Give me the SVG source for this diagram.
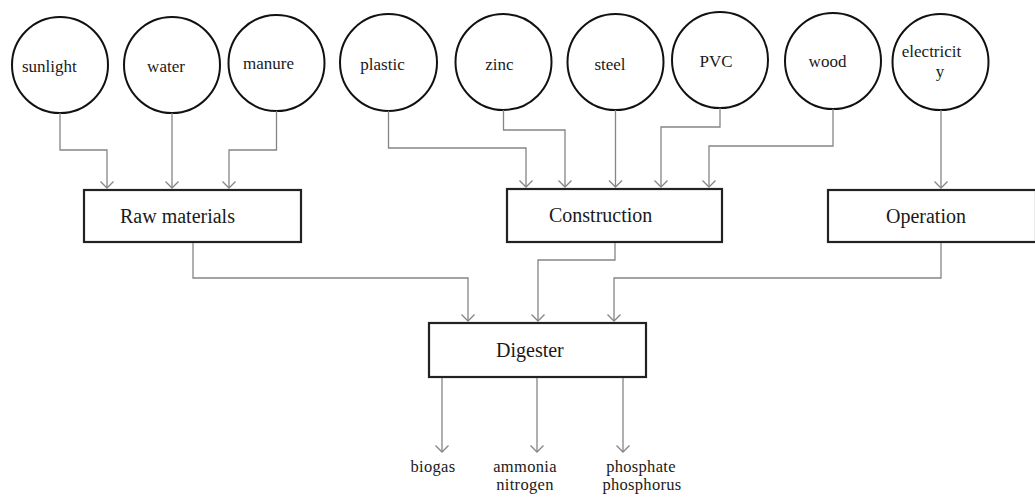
<svg xmlns="http://www.w3.org/2000/svg" width="1035" height="497" viewBox="0 0 1035 497">
  <style>
    .node circle { fill: #fff; stroke: #111; stroke-width: 2; }
    .node rect { fill: #fff; stroke: #222; stroke-width: 2.2; }
    text { font-family: "Liberation Serif", "Times New Roman", serif; fill: #1a1a1a; }
    .sm { font-size: 17px; }
    .lg { font-size: 20px; }
    .out { font-size: 16.5px; text-anchor: middle; letter-spacing: 0.3px; }
    #connectors path { fill: none; stroke: #858585; stroke-width: 1.3; marker-end: url(#arrow); }
  </style>
  <defs>
    <marker id="arrow" markerUnits="userSpaceOnUse" markerWidth="16" markerHeight="16" viewBox="-8 -8 16 16" refX="0" refY="0" orient="auto">
      <path d="M-6.5,-6.5 L0,0 L-6.5,6.5" fill="none" stroke="#858585" stroke-width="1.3"/>
    </marker>
  </defs>

  <rect width="1035" height="497" fill="#fff"/>

  <!-- input circles -->
  <g id="sunlight" class="node"><circle cx="60" cy="65" r="48"/><text class="sm" x="22" y="72">sunlight</text></g>
  <g id="water" class="node"><circle cx="172" cy="65" r="48"/><text class="sm" x="166" y="72" text-anchor="middle">water</text></g>
  <g id="manure" class="node"><circle cx="276.5" cy="63" r="48"/><text class="sm" x="268.5" y="69" text-anchor="middle">manure</text></g>
  <g id="plastic" class="node"><circle cx="388.5" cy="62.5" r="48.5"/><text class="sm" x="382.5" y="70" text-anchor="middle">plastic</text></g>
  <g id="zinc" class="node"><circle cx="503.5" cy="62" r="48"/><text class="sm" x="499.5" y="70" text-anchor="middle">zinc</text></g>
  <g id="steel" class="node"><circle cx="615.5" cy="62" r="48"/><text class="sm" x="610" y="70" text-anchor="middle">steel</text></g>
  <g id="pvc" class="node"><circle cx="720" cy="60" r="48"/><text class="sm" x="716" y="67" text-anchor="middle">PVC</text></g>
  <g id="wood" class="node"><circle cx="833" cy="61" r="48"/><text class="sm" x="827.5" y="67" text-anchor="middle">wood</text></g>
  <g id="electricity" class="node"><circle cx="940.5" cy="62" r="48"/><text class="sm" x="931.5" y="57" text-anchor="middle">electricit</text><text class="sm" x="940" y="77" text-anchor="middle">y</text></g>

  <!-- stage boxes -->
  <g id="raw-materials" class="node"><rect x="84" y="190" width="217" height="52"/><text class="lg" x="120" y="223">Raw materials</text></g>
  <g id="construction" class="node"><rect x="507" y="189" width="215" height="53"/><text class="lg" x="549" y="222">Construction</text></g>
  <g id="operation" class="node"><rect x="828" y="190" width="208" height="52"/><text class="lg" x="886" y="223">Operation</text></g>
  <g id="digester" class="node"><rect x="429" y="323" width="217" height="54"/><text class="lg" x="496" y="357">Digester</text></g>

  <!-- outputs -->
  <g id="biogas" class="node"><text class="out" x="433" y="472">biogas</text></g>
  <g id="ammonia-nitrogen" class="node"><text class="out" x="525" y="472">ammonia</text><text class="out" x="525" y="490">nitrogen</text></g>
  <g id="phosphate-phosphorus" class="node"><text class="out" x="641" y="472">phosphate</text><text class="out" x="642" y="490">phosphorus</text></g>

  <g id="connectors">
    <path d="M60,113 V150 H107 V188"/>
    <path d="M172,113 V188"/>
    <path d="M276.5,111 V150 H229 V188"/>
    <path d="M388.5,111 V148 H526 V187"/>
    <path d="M503.5,110 V130 H565 V187"/>
    <path d="M615.5,110 V187"/>
    <path d="M720,108 V127 H661 V187"/>
    <path d="M833,109 V146 H709 V187"/>
    <path d="M941,110 V188"/>
    <path d="M193,243 V278 H468 V321"/>
    <path d="M615,243 V260 H538 V321"/>
    <path d="M941,243 V278 H614 V321"/>
    <path d="M442,378 V452"/>
    <path d="M537,378 V452"/>
    <path d="M623,378 V452"/>
  </g>
</svg>
